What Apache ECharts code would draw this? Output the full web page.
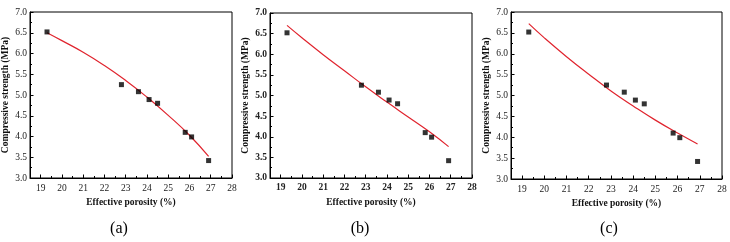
<!DOCTYPE html>
<html>
<head>
<meta charset="utf-8">
<script src="https://cdn.jsdelivr.net/npm/echarts@6/dist/echarts.min.js"></script>
<style>
html,body{margin:0;padding:0;background:#fff;}
#c{width:730px;height:242px;}
</style>
</head>
<body>
<div id="c"></div>
<script>
// ---- data ----
const porosity = [19.3, 22.8, 23.6, 24.1, 24.5, 25.8, 26.1, 26.9];
const strength = [6.52, 5.25, 5.08, 4.89, 4.80, 4.10, 3.99, 3.42];
const fitX = [19.3, 20, 21, 22, 23, 24, 25, 26, 26.9];
const fitA = [6.50, 6.31, 6.03, 5.71, 5.35, 4.95, 4.51, 4.03, 3.52];
const fitB = [6.70, 6.40, 5.99, 5.60, 5.21, 4.84, 4.48, 4.12, 3.76];
const fitC = [6.72, 6.38, 5.93, 5.51, 5.11, 4.75, 4.41, 4.10, 3.84];
const xTicks = [19, 20, 21, 22, 23, 24, 25, 26, 27, 28];
const xMinor = [18.5, 19.5, 20.5, 21.5, 22.5, 23.5, 24.5, 25.5, 26.5, 27.5];
const panelLabels = ['(a)', '(b)', '(c)'];
const xTitle = 'Effective porosity (%)';
const yTitle = 'Compressive strength (MPa)';

const fits = [fitA, fitB, fitC];
const grids = [
  {left: 26, top: 12, width: 206, height: 166},
  {left: 270, top: 13, width: 202, height: 165},
  {left: 511, top: 12, width: 211, height: 167}
];
const boldTicks = [false, true, false];
const labelPos = [[119, 229], [360, 229], [609, 229]];

const serif = 'Liberation Serif';
const xAxes = [], yAxes = [], series = [], graphics = [];

grids.forEach((g, i) => {
  g.show = true; g.borderColor = '#000'; g.borderWidth = 1; g.backgroundColor = '#fff';
  const tickFont = {fontFamily: serif, fontSize: 9.5, color: '#222', fontWeight: boldTicks[i] ? 'bold' : 'normal'};
  xAxes.push({
    type: 'value', gridIndex: i, min: 18.5, max: 28,
    name: xTitle, nameLocation: 'middle', nameGap: 18,
    nameTextStyle: {fontFamily: serif, fontSize: 9.5, fontWeight: 'bold', color: '#111'},
    axisLine: {show: true, onZero: false, lineStyle: {color: '#000', width: 1}},
    axisTick: {show: true, inside: true, length: 3.5, customValues: xTicks, lineStyle: {color: '#000'}},
    axisLabel: Object.assign({customValues: xTicks, margin: 5, formatter: v => String(v)}, tickFont),
    splitLine: {show: false}
  });
  xAxes.push({
    type: 'value', gridIndex: i, min: 18.5, max: 28, position: 'bottom',
    axisLine: {show: false},
    axisTick: {show: true, inside: true, length: 2, customValues: xMinor, lineStyle: {color: '#000'}},
    axisLabel: {show: false},
    splitLine: {show: false}
  });
  yAxes.push({
    type: 'value', gridIndex: i, min: 3, max: 7, interval: 0.5,
    name: yTitle, nameLocation: 'middle', nameGap: 19,
    nameTextStyle: {fontFamily: serif, fontSize: 9.5, fontWeight: 'bold', color: '#111'},
    axisLine: {show: true, onZero: false, lineStyle: {color: '#000', width: 1}},
    axisTick: {show: true, inside: true, length: 3.5, lineStyle: {color: '#000'}},
    minorTick: {show: true, splitNumber: 2, length: 2, lineStyle: {color: '#000'}},
    axisLabel: Object.assign({margin: 3, formatter: v => v.toFixed(1)}, tickFont),
    splitLine: {show: false}
  });
  series.push({
    type: 'line', xAxisIndex: 2 * i, yAxisIndex: i, smooth: true, showSymbol: false,
    lineStyle: {color: '#e0242e', width: 1.2},
    data: fitX.map((x, k) => [x, fits[i][k]]), z: 2
  });
  series.push({
    type: 'scatter', xAxisIndex: 2 * i, yAxisIndex: i, symbol: 'rect', symbolSize: 5,
    itemStyle: {color: '#000'},
    data: porosity.map((x, k) => [x, strength[k]]), z: 3
  });
  graphics.push({
    type: 'text', x: labelPos[i][0], y: labelPos[i][1],
    style: {text: panelLabels[i], font: '16px "Liberation Serif"', fill: '#000', align: 'center', verticalAlign: 'middle'}
  });
});

const chart = echarts.init(document.getElementById('c'), null, {renderer: 'canvas'});
chart.setOption({
  animation: false,
  backgroundColor: '#fff',
  grid: grids,
  xAxis: xAxes,
  yAxis: yAxes,
  series: series,
  graphic: graphics
});
</script>
</body>
</html>
